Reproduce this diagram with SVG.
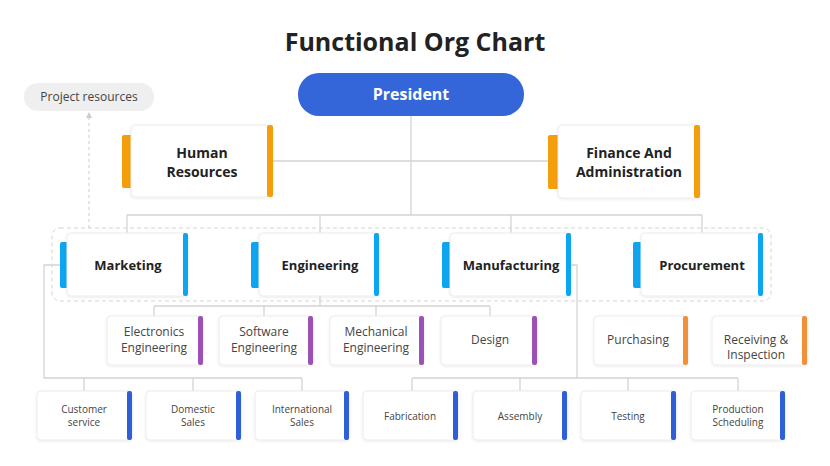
<svg xmlns="http://www.w3.org/2000/svg" width="830" height="466" viewBox="0 0 830 466">
<defs>
<style>
.t{font-family:"Open Sans","Noto Sans","Liberation Sans",sans-serif;fill:#222;text-anchor:middle}
.b{font-weight:bold;font-size:14px}
.m{font-size:12px;fill:#444}
.s{font-size:10px;fill:#444}
.box{fill:#fff;stroke:#ececec;stroke-width:1}
.ln{fill:none;stroke:#d4d4d4;stroke-width:1.3}
</style>
<filter id="sh" x="-10%" y="-10%" width="120%" height="130%"><feDropShadow dx="0" dy="1" stdDeviation="1.5" flood-color="#000" flood-opacity="0.08"/></filter>
<marker id="ar" markerWidth="6" markerHeight="6" refX="3" refY="3" orient="auto"><path d="M0,0 L6,3 L0,6z" fill="#ccc"/></marker>
</defs>
<rect width="830" height="466" fill="#fff"/>
<text x="415" y="51" class="t" style="font-size:25px;font-weight:bold">Functional Org Chart</text>
<g id="connectors">
<path class="ln" d="M411,116V215M273,161H548M127,215H702M127,215V233M320,215V233M511,215V233M702,215V233"/>
<path class="ln" d="M320,296V306M154,306H490M154,306V316M264,306V316M376,306V316M490,306V316"/>
<path class="ln" d="M60,265H44V378H302M84,378V391M193,378V391M302,378V391"/>
<path class="ln" d="M571,265H577V378M412,378H738M412,378V391M520,378V391M628,378V391M738,378V391"/>
<rect x="52" y="228" width="719" height="73" rx="8" fill="none" stroke="#d4d4d4" stroke-dasharray="4 3"/>
<path d="M89,228V115" stroke="#ccc" stroke-dasharray="3 3" marker-end="url(#ar)"/>
</g>
<g id="project"><rect x="24" y="83" width="130" height="28" rx="14" fill="#efefef"/><text x="89" y="101" class="t m">Project resources</text></g>
<g id="president"><rect x="298" y="73" width="226" height="43" rx="21" fill="#3466da"/><text x="411" y="100" class="t b" style="fill:#fff;font-size:16px">President</text></g>
<g id="hr"><rect x="122" y="135" width="12" height="53" rx="2" fill="#f59e0b"/><rect x="131" y="125" width="141" height="72" rx="4" class="box" filter="url(#sh)"/><rect x="267" y="125" width="6" height="72" rx="2" fill="#f59e0b"/><text x="202" y="158" class="t b">Human</text><text x="202" y="177" class="t b">Resources</text></g>
<g id="finance"><rect x="548" y="135" width="12" height="54" rx="2" fill="#f59e0b"/><rect x="558" y="125" width="142" height="73" rx="4" class="box" filter="url(#sh)"/><rect x="694" y="125" width="6" height="73" rx="2" fill="#f59e0b"/><text x="629" y="158" class="t b">Finance And</text><text x="629" y="177" class="t b">Administration</text></g>
<g id="marketing"><rect x="60" y="242" width="9" height="46" rx="2" fill="#0ea5f0"/><rect x="67" y="233" width="121" height="63" rx="4" class="box" filter="url(#sh)"/><rect x="183" y="233" width="5" height="63" rx="2" fill="#0ea5f0"/><text x="128" y="270" class="t b" style="font-size:13px">Marketing</text></g>
<g id="engineering"><rect x="251" y="242" width="10" height="46" rx="2" fill="#0ea5f0"/><rect x="259" y="233" width="120" height="63" rx="4" class="box" filter="url(#sh)"/><rect x="374" y="233" width="5" height="63" rx="2" fill="#0ea5f0"/><text x="320" y="270" class="t b" style="font-size:13px">Engineering</text></g>
<g id="manufacturing"><rect x="442" y="242" width="10" height="46" rx="2" fill="#0ea5f0"/><rect x="450" y="233" width="121" height="63" rx="4" class="box" filter="url(#sh)"/><rect x="566" y="233" width="5" height="63" rx="2" fill="#0ea5f0"/><text x="511" y="270" class="t b" style="font-size:13px">Manufacturing</text></g>
<g id="procurement"><rect x="633" y="242" width="10" height="46" rx="2" fill="#0ea5f0"/><rect x="641" y="233" width="122" height="63" rx="4" class="box" filter="url(#sh)"/><rect x="758" y="233" width="5" height="63" rx="2" fill="#0ea5f0"/><text x="702" y="270" class="t b" style="font-size:13px">Procurement</text></g>
<g id="electronics"><rect x="107" y="316" width="96" height="49" rx="4" class="box" filter="url(#sh)"/><rect x="198" y="316" width="5" height="49" rx="2" fill="#9b51b5"/><text x="154" y="336" class="t m">Electronics</text><text x="154" y="352" class="t m">Engineering</text></g>
<g id="software"><rect x="219" y="316" width="94" height="49" rx="4" class="box" filter="url(#sh)"/><rect x="308" y="316" width="5" height="49" rx="2" fill="#9b51b5"/><text x="264" y="336" class="t m">Software</text><text x="264" y="352" class="t m">Engineering</text></g>
<g id="mechanical"><rect x="330" y="316" width="94" height="49" rx="4" class="box" filter="url(#sh)"/><rect x="419" y="316" width="5" height="49" rx="2" fill="#9b51b5"/><text x="376" y="336" class="t m">Mechanical</text><text x="376" y="352" class="t m">Engineering</text></g>
<g id="design"><rect x="441" y="316" width="96" height="49" rx="4" class="box" filter="url(#sh)"/><rect x="532" y="316" width="5" height="49" rx="2" fill="#9b51b5"/><text x="490" y="344" class="t m">Design</text></g>
<g id="purchasing"><rect x="594" y="316" width="94" height="49" rx="4" class="box" filter="url(#sh)"/><rect x="683" y="316" width="5" height="49" rx="2" fill="#f0913a"/><text x="638" y="344" class="t m">Purchasing</text></g>
<g id="receiving"><rect x="712" y="316" width="95" height="49" rx="4" class="box" filter="url(#sh)"/><rect x="802" y="316" width="5" height="49" rx="2" fill="#f0913a"/><text x="756" y="344" class="t m">Receiving &amp;</text><text x="756" y="359" class="t m">Inspection</text></g>
<g id="customer"><rect x="37" y="391" width="95" height="49" rx="4" class="box" filter="url(#sh)"/><rect x="127" y="391" width="5" height="49" rx="2" fill="#2f5fd6"/><text x="84" y="413" class="t s">Customer</text><text x="84" y="426" class="t s">service</text></g>
<g id="domestic"><rect x="146" y="391" width="95" height="49" rx="4" class="box" filter="url(#sh)"/><rect x="236" y="391" width="5" height="49" rx="2" fill="#2f5fd6"/><text x="193" y="413" class="t s">Domestic</text><text x="193" y="426" class="t s">Sales</text></g>
<g id="international"><rect x="255" y="391" width="94" height="49" rx="4" class="box" filter="url(#sh)"/><rect x="344" y="391" width="5" height="49" rx="2" fill="#2f5fd6"/><text x="302" y="413" class="t s">International</text><text x="302" y="426" class="t s">Sales</text></g>
<g id="fabrication"><rect x="363" y="391" width="95" height="49" rx="4" class="box" filter="url(#sh)"/><rect x="453" y="391" width="5" height="49" rx="2" fill="#2f5fd6"/><text x="410" y="420" class="t s">Fabrication</text></g>
<g id="assembly"><rect x="473" y="391" width="94" height="49" rx="4" class="box" filter="url(#sh)"/><rect x="562" y="391" width="5" height="49" rx="2" fill="#2f5fd6"/><text x="520" y="420" class="t s">Assembly</text></g>
<g id="testing"><rect x="581" y="391" width="95" height="49" rx="4" class="box" filter="url(#sh)"/><rect x="671" y="391" width="5" height="49" rx="2" fill="#2f5fd6"/><text x="628" y="420" class="t s">Testing</text></g>
<g id="production"><rect x="691" y="391" width="94" height="49" rx="4" class="box" filter="url(#sh)"/><rect x="780" y="391" width="5" height="49" rx="2" fill="#2f5fd6"/><text x="738" y="413" class="t s">Production</text><text x="738" y="426" class="t s">Scheduling</text></g>
</svg>
